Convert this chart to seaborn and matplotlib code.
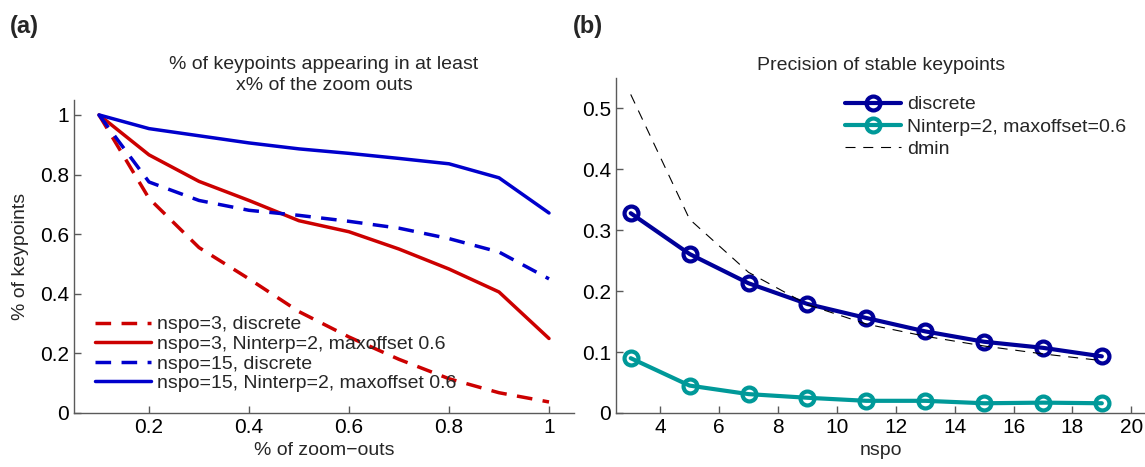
import numpy as np
import pandas as pd
import matplotlib
matplotlib.use("Agg")
import matplotlib.pyplot as plt
import seaborn as sns

# ---- panel (a) data ----
zoom_frac = [0.1, 0.2, 0.3, 0.4, 0.5, 0.6, 0.7, 0.8, 0.9, 1.0]
nspo3_discrete = [1.0, 0.72, 0.555, 0.45, 0.34, 0.255, 0.18, 0.115, 0.068, 0.037]
nspo3_interp = [1.0, 0.866, 0.777, 0.713, 0.645, 0.608, 0.55, 0.483, 0.406, 0.25]
nspo15_discrete = [1.0, 0.775, 0.713, 0.68, 0.663, 0.643, 0.62, 0.585, 0.54, 0.45]
nspo15_interp = [1.0, 0.954, 0.93, 0.906, 0.886, 0.871, 0.854, 0.836, 0.789, 0.671]
labels_a = ["nspo=3, discrete", "nspo=3, Ninterp=2, maxoffset 0.6",
            "nspo=15, discrete", "nspo=15, Ninterp=2, maxoffset 0.6"]

# ---- panel (b) data ----
nspo = [3, 5, 7, 9, 11, 13, 15, 17, 19]
prec_discrete = [0.328, 0.261, 0.213, 0.179, 0.156, 0.134, 0.117, 0.107, 0.093]
prec_interp = [0.090, 0.045, 0.031, 0.025, 0.020, 0.020, 0.016, 0.017, 0.016]
dmin = [0.523, 0.318, 0.231, 0.178, 0.146, 0.126, 0.110, 0.097, 0.086]
labels_b = ["discrete", "Ninterp=2, maxoffset=0.6", "dmin"]

RED = "#cc0000"
BLUE = "#0000cc"
NAVY = "#000099"
TEAL = "#009999"
AXC = "#5a5a5a"

sns.set_style("ticks")
plt.rcParams["font.family"] = ["Liberation Sans", "DejaVu Sans"]
plt.rcParams["axes.edgecolor"] = AXC
plt.rcParams["xtick.color"] = AXC
plt.rcParams["ytick.color"] = AXC
plt.rcParams["xtick.labelcolor"] = "black"
plt.rcParams["ytick.labelcolor"] = "black"
plt.rcParams["xtick.direction"] = "in"
plt.rcParams["ytick.direction"] = "in"

W, H = 1145, 467
fig = plt.figure(figsize=(W / 100, H / 100), dpi=100)


def px_axes(x0, y0, x1, y1):
    # pixel box (left, top, right, bottom) -> figure fraction
    return fig.add_axes([x0 / W, 1 - y1 / H, (x1 - x0) / W, (y1 - y0) / H])


ax1 = px_axes(74, 100, 574, 413)
ax2 = px_axes(616, 78, 1146, 413)

lw = 2.5
dash = (0, (4.5, 3))
series_a = [
    (nspo3_discrete, RED, dash),
    (nspo3_interp, RED, "-"),
    (nspo15_discrete, BLUE, dash),
    (nspo15_interp, BLUE, "-"),
]
for (vals, col, ls), lab in zip(series_a, labels_a):
    sns.lineplot(x=zoom_frac, y=vals, ax=ax1, color=col, linestyle=ls,
                 linewidth=lw, label=lab)

ax1.set_xlim(0.05, 1.05)
ax1.set_ylim(0, 1.05)
ax1.set_xticks([0.2, 0.4, 0.6, 0.8, 1.0])
ax1.set_xticklabels(["0.2", "0.4", "0.6", "0.8", "1"])
ax1.set_yticks([0, 0.2, 0.4, 0.6, 0.8, 1.0])
ax1.set_yticklabels(["0", "0.2", "0.4", "0.6", "0.8", "1"])
ax1.set_xlabel("% of zoom\u2212outs", fontsize=14, labelpad=4)
ax1.set_ylabel("% of keypoints", fontsize=14, labelpad=8)
ax1.set_title("% of keypoints appearing in at least\nx% of the zoom outs",
              fontsize=14, pad=7, linespacing=1.3)
leg1 = ax1.legend(loc="center left", bbox_to_anchor=(95 / W, 1 - 354 / H),
                  bbox_transform=fig.transFigure, frameon=False, fontsize=14,
                  handlelength=2.9, handletextpad=0.3, labelspacing=0.1,
                  borderpad=0, borderaxespad=0)

mk = dict(marker="o", markersize=10, markerfacecolor="none", markeredgewidth=3)
sns.lineplot(x=nspo, y=prec_discrete, ax=ax2, color=NAVY, linewidth=3,
             markeredgecolor=NAVY, label=labels_b[0], **mk)
sns.lineplot(x=nspo, y=prec_interp, ax=ax2, color=TEAL, linewidth=3,
             markeredgecolor=TEAL, label=labels_b[1], **mk)
sns.lineplot(x=nspo, y=dmin, ax=ax2, color="black", linewidth=0.8,
             linestyle=(0, (9, 7)), label=labels_b[2])

ax2.set_xlim(2.5, 20.5)
ax2.set_ylim(0, 0.55)
ax2.set_xticks([4, 6, 8, 10, 12, 14, 16, 18, 20])
ax2.set_yticks([0, 0.1, 0.2, 0.3, 0.4, 0.5])
ax2.set_yticklabels(["0", "0.1", "0.2", "0.3", "0.4", "0.5"])
ax2.set_xlabel("nspo", fontsize=14, labelpad=4)
ax2.set_title("Precision of stable keypoints", fontsize=14, pad=6)
leg2 = ax2.legend(loc="center left", bbox_to_anchor=(845 / W, 1 - 127 / H),
                  bbox_transform=fig.transFigure, frameon=False, fontsize=14,
                  handlelength=2.9, handletextpad=0.3, labelspacing=0.25,
                  borderpad=0, borderaxespad=0)

for ax in (ax1, ax2):
    sns.despine(ax=ax)
    ax.tick_params(labelsize=15, length=5, width=1)
    ax.spines["left"].set_linewidth(1)
    ax.spines["bottom"].set_linewidth(1)

fig.text(10 / W, 1 - 26 / H, "(a)", fontsize=17, fontweight="bold", va="center")
fig.text(573 / W, 1 - 26 / H, "(b)", fontsize=17, fontweight="bold", va="center")

fig.savefig("out.png", dpi=100)
